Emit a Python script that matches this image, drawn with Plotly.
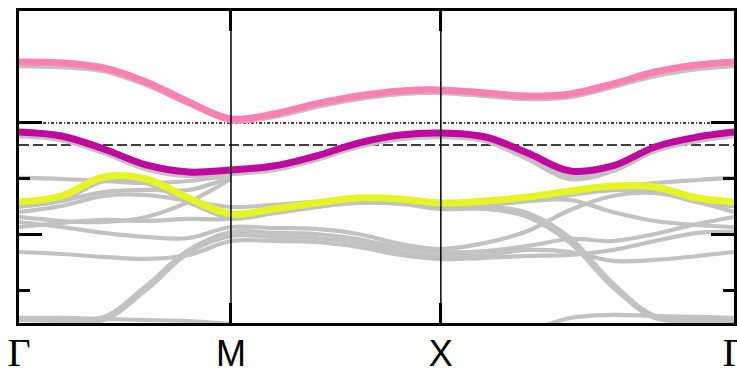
import plotly.graph_objects as go

# k-path Γ - M - X - Γ (path length units)
K_NODES = [0.0, 1.0, 1.99, 3.373]
GAMMA = "<span style=\"font-family:Liberation Serif;font-size:40px\">Γ</span>"
K_LABELS = [GAMMA, "M", "X", GAMMA]

# sampling points along the path
K = [0.0, 0.2, 0.4, 0.6, 0.8, 1.0, 1.2, 1.4, 1.6, 1.8, 1.99,
     2.2, 2.4, 2.6, 2.8, 3.0, 3.2, 3.373]

# reference energy levels (eV)
E_DOTTED = 0.0
E_DASHED = -0.196

# highlighted bands (eV)
band_pink = [0.545, 0.536, 0.491, 0.366, 0.188, 0.036, 0.080, 0.170, 0.241,
             0.286, 0.295, 0.268, 0.241, 0.259, 0.348, 0.455, 0.518, 0.545]
band_magenta = [-0.080, -0.116, -0.232, -0.375, -0.438, -0.420, -0.384, -0.295, -0.179,
                -0.107, -0.089, -0.125, -0.268, -0.429, -0.384, -0.214, -0.125, -0.080]
band_yellow = [-0.705, -0.652, -0.482, -0.500, -0.670, -0.8125, -0.768, -0.714, -0.670,
               -0.679, -0.714, -0.696, -0.661, -0.607, -0.5625, -0.571, -0.670, -0.705]

# reference (gray) bands lying under the highlighted ones
ref_pink = [0.518, 0.509, 0.473, 0.348, 0.179, 0.027, 0.0625, 0.152, 0.223,
            0.268, 0.277, 0.250, 0.223, 0.241, 0.330, 0.429, 0.491, 0.518]
ref_magenta = [-0.107, -0.143, -0.259, -0.402, -0.464, -0.446, -0.411, -0.321, -0.205,
               -0.134, -0.116, -0.152, -0.3125, -0.491, -0.420, -0.241, -0.152, -0.107]
ref_yellow = [-0.732, -0.679, -0.509, -0.527, -0.696, -0.839, -0.795, -0.741, -0.696,
              -0.705, -0.750, -0.723, -0.6875, -0.634, -0.589, -0.598, -0.696, -0.732]

# remaining gray bands (None = outside the window)
N = None
gray_bands = [
    [-0.491, -0.500, -0.518, -0.536, -0.518, -0.464, N, N, N, N, N, N, N, N, N, N, N, N],
    [-0.750, -0.696, -0.616, -0.598, -0.598, -0.482, N, N, N, N, N, N, N, N, N, N, N, N],
    [-0.839, -0.875, -0.884, -0.839, -0.705, -0.500, N, N, N, N, N, N, N, N, N, N, N, N],
    [-0.795, -0.741, -0.652, -0.643, -0.696, -0.750, -0.732, -0.705, -0.6875, -0.705, -0.741,
     -0.741, -0.804, -1.027, -1.429, -1.723, -1.750, -1.759],
    [-0.929, -0.893, -0.866, -0.875, -0.857, -0.857, -0.804, -0.750, -0.714, -0.723, -0.768,
     -0.768, -0.839, -1.071, -1.464, -1.741, -1.768, -1.777],
    [-0.884, -0.929, -0.982, -1.018, -1.027, -0.929, -0.9375, -0.946, -0.991, -1.080, -1.125,
     -1.071, -0.964, -0.777, -0.652, -0.625, -0.705, -0.795],
    [-1.741, -1.750, -1.732, -1.455, -1.134, -0.973, -0.982, -0.991, -1.036, -1.116, -1.152,
     -1.143, -1.098, -1.036, -1.054, -0.991, -0.902, -0.839],
    [-1.759, -1.768, -1.759, -1.491, -1.161, -1.009, -1.018, -1.027, -1.071, -1.152, -1.1875,
     -1.179, -1.134, -1.152, -1.232, -1.223, -1.1875, -1.152],
    [-1.152, -1.170, -1.196, -1.214, -1.179, -1.054, -1.054, -1.063, -1.107, -1.179, -1.214,
     -1.205, -1.1875, -1.179, -1.134, -1.054, -0.982, -0.973],
    [N, N, N, N, N, N, N, N, N, N, -0.732, -0.714, -0.696, -0.6875, -0.795, -0.875, -0.911, -0.929],
    [N, N, N, N, N, N, N, N, N, N, -0.732, -0.714, -0.670, -0.625, -0.580, -0.536, -0.509, -0.491],
    [-1.741, -1.741, -1.750, -1.759, -1.768, -1.795, N, N, N, N, N, N,
     -1.866, -1.741, -1.714, -1.723, -1.732, -1.741],
]

E_MIN, E_MAX = -1.786, 1.0
MAJOR_TICKS = [-1.0, 0.0]
MINOR_TICKS = [-1.5, -0.5]

GRAY = "#c2c2c2"
PINK = "#ff80b4"
MAGENTA = "#c0089e"
YELLOW = "#e6f522"

fig = go.Figure()

k_span = [K_NODES[0], K_NODES[-1]]
fig.add_trace(go.Scatter(x=k_span, y=[E_DOTTED] * 2, mode="lines",
                         line=dict(color="black", width=1.6, dash="3px,2px,1px,2px")))
fig.add_trace(go.Scatter(x=k_span, y=[E_DASHED] * 2, mode="lines",
                         line=dict(color="black", width=1.6, dash="10px,4px")))

for band in gray_bands:
    fig.add_trace(go.Scatter(x=K, y=band, mode="lines", connectgaps=False,
                             line=dict(color=GRAY, width=4.2, shape="spline", smoothing=1.0)))

for band in (ref_pink, ref_magenta, ref_yellow):
    fig.add_trace(go.Scatter(x=K, y=band, mode="lines",
                             line=dict(color=GRAY, width=6.5, shape="spline", smoothing=1.0)))

for band, color in ((band_pink, PINK), (band_magenta, MAGENTA), (band_yellow, YELLOW)):
    fig.add_trace(go.Scatter(x=K, y=band, mode="lines",
                             line=dict(color=color, width=7, shape="spline", smoothing=1.0)))

# vertical separators at the interior high-symmetry points
for k in K_NODES[1:-1]:
    fig.add_shape(type="line", x0=k, x1=k, xref="x", y0=0, y1=1, yref="paper",
                  line=dict(color="black", width=1.5), layer="above")

fig.update_layout(
    width=737, height=375,
    margin=dict(l=19, r=3, t=11, b=52),
    paper_bgcolor="white", plot_bgcolor="white",
    showlegend=False,
    xaxis=dict(range=k_span, tickmode="array", tickvals=K_NODES, ticktext=K_LABELS,
               ticks="inside", ticklen=20, tickwidth=3, tickcolor="black",
               showline=True, linewidth=3, linecolor="black", mirror="ticks",
               showgrid=False, zeroline=False, automargin=False,
               ticklabeloverflow="allow", ticklabelstandoff=-3,
               tickfont=dict(family="Liberation Sans, Arial", size=36, color="black")),
    yaxis=dict(range=[E_MIN, E_MAX], tickmode="array", tickvals=MAJOR_TICKS,
               ticks="inside", ticklen=23, tickwidth=3, tickcolor="black",
               showticklabels=False,
               showline=True, linewidth=3, linecolor="black", mirror="ticks",
               showgrid=False, zeroline=False, automargin=False,
               minor=dict(tickmode="array", tickvals=MINOR_TICKS, ticks="inside",
                          ticklen=11, tickwidth=3, tickcolor="black", showgrid=False)),
)

fig.write_html("out.html")
